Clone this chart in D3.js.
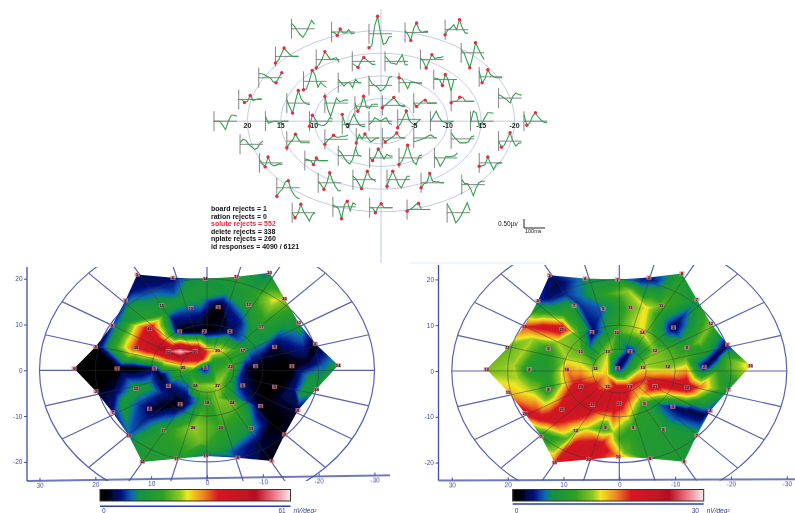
<!DOCTYPE html>
<html>
<head>
<meta charset="utf-8">
<script src="https://cdn.jsdelivr.net/npm/d3@7/dist/d3.min.js"></script>
<style>
  body { margin: 0; background: #fff; }
  text { font-family: "Liberation Sans", sans-serif; }
</style>
</head>
<body>
<div id="vis"></div>
<script>
// trace origins in degrees, 61 hexagons, row by row
const traceX = [13.4,7.4,1.8,-3.6,-9.6, 15.8,9.7,4.3,-0.6,-5.9,-12, 18.3,11.6,6.4,1.8,-2.7,-7.9,-14.7,
  21.3,14.1,8.4,3.9,-0.2,-4.9,-10.5,-17.6, 25,17.3,10.7,5.8,1.8,-2.5,-7.4,-13.4,-21.4,
  21.1,14.1,8.4,3.7,-0.2,-4.9,-10.5,-17.6, 18.2,11.4,6.4,1.7,-2.7,-8,-14.7,
  15.6,9.4,4.2,-0.9,-6,-12.1, 13.3,7.2,1.7,-3.9,-9.9];
const traceY = [20.4,19.7,19.3,19.6,20.2, 14.3,13.6,13.2,13.2,13.6,15.1, 9.6,8.8,8.5,7.9,8.5,9.2,9.8,
  4.8,4,4,3.3,3.5,4,4.4,5.1, 0,0,0,-0.7,0,0.4,0,0,0,
  -5.1,-4.4,-4,-3.7,-3.7,-3.7,-3.9,-4.4, -9.2,-8.7,-7.6,-8.1,-8.1,-8.1,-9.2,
  -14.7,-13.6,-12.9,-12.9,-13.6,-14, -20.2,-18.9,-19.1,-19.5,-20.2];
// response in microvolts, 9 samples over 115 ms
const traceValues = [
  [.27,.13,-.1,-.3,-.42,-.2,.1,.42,.22],
  [0,-.03,-.18,.15,-.05,-.05,.12,-.1,-.05],
  [-.7,-.6,.4,.88,.05,-.53,-.45,-.15,-.15],
  [.1,-.1,-.4,.2,.47,.1,0,.05,.05],
  [-.25,0,.08,.25,0,.5,.08,-.17,-.17],
  [-.33,-.2,.1,.42,.25,.1,0,0,0],
  [-.42,-.25,0,.4,.2,0,.05,.1,-.15],
  [-.1,-.2,-.3,0,.2,.08,-.05,-.15,-.15],
  [.25,.1,-.08,-.1,-.15,.1,.33,-.17,-.17],
  [.08,-.1,-.42,-.1,.25,.05,.1,.1,.15],
  [.15,0,-.4,-.75,-.2,.5,.2,-.1,-.33],
  [.2,.2,.15,.05,0,-.2,-.25,0,.25],
  [-.42,-.38,0,.55,.33,-.3,-.05,-.2,-.3],
  [.17,0,-.17,0,0,-.25,.17,0,0],
  [.38,.1,0,-.1,-.28,-.2,0,.4,.45],
  [.25,.2,0,-.3,.03,.03,0,-.05,-.05],
  [.08,.05,0,-.3,.25,0,-.58,0,0],
  [.28,-.3,-.1,.35,.1,0,-.05,-.05,-.05],
  [0,0,-.15,-.1,.2,-.05,0,.03,.03],
  [.17,-.2,-.5,.1,.63,.2,.05,-.05,-.08],
  [.33,-.3,-.67,-.2,.25,.08,.1,.15,.15],
  [.17,-.25,0,.5,-.05,-.1,.1,.1,.1],
  [-.12,0,.13,.25,.4,.2,0,-.05,-.05],
  [0,-.17,-.05,.1,.15,0,0,0,0],
  [-.08,0,0,.2,.2,0,0,0,0],
  [.17,.1,0,-.1,-.25,.1,.25,.18,.15],
  [0,0,0,-.2,-.42,0,.3,.3,.25],
  [.25,-.1,-.05,0,0,-.1,0,0,0],
  [-.25,.3,.1,-.15,-.2,-.22,-.1,.17,.1],
  [.5,0,-.17,.2,.5,.2,-.05,-.1,-.1],
  [-.17,-.05,.17,.1,0,.1,.17,-.1,-.17],
  [-.42,-.2,.1,.42,-.05,-.2,-.3,-.1,0],
  [0,.25,.5,.2,0,-.05,-.1,-.05,0],
  [-.08,.5,.42,-.25,-.1,.2,.42,.42,.4],
  [.33,-.2,-.1,.25,.42,.2,.05,-.05,-.08],
  [.08,.25,.2,0,-.12,-.25,-.2,.05,.17],
  [-.33,-.1,.05,.35,.1,-.08,-.08,-.08,-.08],
  [-.25,-.05,.05,.2,.1,.1,.15,.15,.2],
  [-.25,.17,-.05,.2,0,-.2,-.1,0,0],
  [0,-.2,-.1,0,.1,.25,.05,0,0],
  [-.17,-.15,-.1,-.05,0,.1,.15,.05,0],
  [.3,.1,-.05,-.2,-.2,-.2,-.15,.1,.15],
  [0,-.3,-.2,.1,.42,0,-.25,-.1,-.08],
  [.17,-.05,-.2,.3,-.05,-.15,-.1,-.05,-.08],
  [.08,.05,0,-.2,.13,0,0,0,0],
  [.3,.15,-.1,-.3,-.42,-.2,.38,0,-.03],
  [0,-.13,.1,.45,.2,-.05,.17,.1,.08],
  [-.33,-.17,.2,.63,.15,-.2,-.33,.1,.15],
  [.08,-.1,-.42,-.2,.08,.05,.08,.1,.25],
  [-.17,-.15,-.1,.3,-.05,-.33,-.05,0,0],
  [-.42,-.2,-.05,.3,.35,-.1,-.35,-.5,-.55],
  [.08,-.1,-.33,0,.5,.1,-.2,-.4,-.4],
  [.17,.05,-.2,-.45,0,.42,.1,0,-.1],
  [-.33,.1,.42,.1,-.25,-.42,-.1,.17,.17],
  [-.25,-.05,0,.47,.08,.05,.05,0,0],
  [.25,.05,.05,-.2,-.55,-.15,.1,.17,.17],
  [0,-.25,-.05,.42,.05,-.17,-.42,-.1,0],
  [.1,0,-.1,-.6,.1,.28,-.2,.2,.1],
  [0,0,-.25,.05,.2,0,0,0,0],
  [-.08,0,.1,.25,.3,0,0,0,0],
  [.42,.2,-.1,-.5,-.35,-.1,.2,.5,.1]
];
// traces with no red markers on them
const unmarked = [0,8,13,14,25,26,27,30,32,33,35,40,41,45,48,55,60];
const rejectLines = ["board rejects = 1","ration rejects = 0","solute rejects = 552","delete rejects = 338","nplate rejects = 260","id responses = 4090 / 6121"];
const ringTicks = [20,15,10,5,-5,-10,-15,-20];
const rings = [5,10,15,20];

// map nodes: centre, then rings of 6, 12, 18, 24 (last 24 are the outline)
const nodeX = [0.3, 4.3,2.1,-1.9,-4.2,-1.9,2.1,
  6.9,4.9,0.5,-4.1,-6.4,-8.7,-6.4,-4.5,0,4.8,6.9,9.4,
  12.7,10.3,8.1,2.9,-2,-7.5,-9.7,-12.1,-15.2,-12.1,-9.6,-7.9,-2.5,2.5,7.8,10.3,12.7,16.1,
  23.8,20,17,14.6,12.5,6.1,0.3,-5.3,-11.2,-13.9,-16.4,-19.4,-23.5,-19.6,-16.3,-13.9,-11.6,-5.5,0.2,5.5,11.6,14,16.9,19.9];
const nodeY = [0.6, 0.6,-3.3,-3.3,0.8,4.3,4.2,
  4.2,8.5,8.5,8.5,4.4,0.9,-3.3,-7.1,-7.1,-7.4,-3.4,0.4,
  4.9,9.1,14.2,13.6,13.8,14.3,9.5,5.1,0.9,-3.6,-7.8,-12.7,-12.4,-12.4,-13.1,-8.4,-4,0.4,
  0.4,5.1,9.8,15.3,20.9,20.2,20,20.4,21.3,15.6,10.4,5.8,1.1,-4.1,-8.7,-14,-19.8,-19.1,-18.7,-19.3,-20,-14.3,-9.2,-4.6];
const leftValues = [5, 25,24,27,22,30,50,
  52,2,2,5,17,3,6,24,18,2,6,5,
  38,42,15,10,1,17,17,4,1,0,3,13,20,26,17,4,15,1,
  0,2,8,8,5,6,14,17,10,26,13,2,14,14,4,3,2,8,10,17,16,10,7,2];
const rightValues = [2, 12,15,19,13,3,13,
  11,2,10,14,12,12,21,9,21,22,20,16,
  9,21,7,5,11,11,2,9,2,22,3,8,9,9,12,21,8,8,
  12,11,18,4,3,6,7,3,8,7,12,2,15,7,4,7,8,8,16,20,18,7,20,15];

// further colour readings between the nodes
const leftExtraX = [9,4.8,1.2,4.8,7.2,10.1,-0.6,13.7,11.3,7.2,7.2,4.8,1.2,3,-3.6,-3.6,-6,1.2,6.3,-7.8,-11.9,-8.4,-13.7,-10.7,-7.2,-16.7,10.7,13.1,8.4,6,15.5,19.1,13.1,8.4,14.9,10.7,16.7,11.9,7.8,7.2,3.6,10.7,11.9,7.2,1.2,-1.2,-3.6,-4.8,-9.6,-11.9,-10.7,-9.6,-14.3,-17.9,-20.9,-18.5,-16.7,-15.5,-7.2,-5.4,-4.8,-1.8,-1.2,3,-3.6,0.6];
const leftExtraY = [6.9,4.1,2.5,2.2,2.5,4.7,4.1,13.5,11.3,9.8,12.7,14.9,16.4,19.3,17.1,14.2,10.5,11.3,11.3,17.1,15.3,9.1,11.3,6.5,5.1,9.1,19.3,17.8,18.5,17.1,10.5,1.1,0.4,-1.1,-6.9,-3.6,-5.1,-7.6,-5.1,-7.6,-5.5,-10.5,-15.6,-15.6,-15.6,-17.1,-15.6,-17.8,-15.6,-11.3,-7.6,-1.1,0.4,1.8,1.1,-1.8,-5.5,-4,0.4,-1.8,-5.5,-6.2,1.8,-0.4,2.5,-1.8];
const leftExtraV = [42,60,42,40,36,45,32,15,18,17,14,15,16,14,14,7,7,5,7,17,28,16,17,12,14,13,5,6,7,9,12,0,1,3,15,14,5,8,7,2,6,7,16,18,24,17,16,9,4,1,2,0,0,3,10,14,14,6,4,10,13,25,16,18,18,15];
const rightExtraX = [11.2,13,9.4,7,4.6,5.2,5.8,3.5,13.6,15.4,15.4,11.2,7.6,13.6,10,13,9.4,7,18.9,18.3,16.5,15.4,8.2,5.8,14.2,7,2.3,1.1,12.4,9.4,5.8,-7.3,-14.4,-4.9,0.5,-8.5,-3.7,-14.4,-7.3,-12,-15,8.2,3.5,-0.1,-1.3,5.8,1.1,9.4,11.8,-17.4,-19.2,-15.6,-18,-14.4,-12,-3.7,-6.7,-4.9,-2.5,-1.9,-0.6,2.3];
const rightExtraY = [19.1,15.8,16.6,14.4,9.3,5.6,16.6,16.6,9.6,9.6,7.1,6.4,8.5,12.9,12.2,-0.9,2.7,2,1.2,-1.7,-6.8,-4.6,-2.4,-4.6,-10.4,-8.2,-5.3,-8.2,-10.4,-11.2,-10.1,-2.8,-3.5,-1.7,-3.5,-5.3,-5.3,-6.1,-7.5,-8.6,-9.7,-16.6,-16.3,-14.8,-17.7,-12.6,-13.4,-14.8,-17.7,3.4,2.7,4.2,0.5,6.4,2.7,19.5,19.5,13.7,10.7,17.3,2.3,-0.9];
const rightExtraV = [2,3,4,4,3,5,6,9,20,19,13,13,11,9,10,8,13,13,13,13,16,13,18,22,20,22,21,20,21,18,18,21,17,18,20,13,14,10,5,2,2,21,21,10,11,13,13,11,13,2,10,8,9,12,11,4,4,14,13,13,2,15];

const xTicks = [30,20,10,0,-10,-20,-30];
const yTicks = [20,10,0,-10,-20];
const colorStops = [0,.035,.11,.17,.2,.33,.42,.46,.54,.62,.82,.92,1];
const colorRange = ["#000000","#000008","#001080","#1068b8","#109048","#2fa020","#90c820","#f0e820","#f08820","#d81820","#b81020","#f08090","#f8eaea"];

const width = 795, height = 513;
const svg = d3.select("#vis").append("svg").attr("width", width).attr("height", height).style("display", "block");
const defs = svg.append("defs");
defs.append("filter").attr("id", "blur").attr("x", "-5%").attr("y", "-5%").attr("width", "110%").attr("height", "110%")
  .append("feGaussianBlur").attr("stdDeviation", 0.55);
defs.append("filter").attr("id", "blurText").append("feGaussianBlur").attr("stdDeviation", 0.3);

const colorT = d3.scaleLinear().domain(colorStops).range(colorRange).interpolate(d3.interpolateRgb).clamp(true);

// ---- top chart
function drawTraces() {
  const x = d3.scaleLinear().domain([25, -25]).range([214, 548]);
  const y = d3.scaleLinear().domain([20, -20]).range([30.6, 211.8]);
  const t = d3.scaleLinear().domain([0, 115]).range([0, 23]);
  const volt = d3.scaleLinear().domain([-1, 1]).range([20, -20]);
  const g = svg.append("g").attr("filter", "url(#blur)");

  g.selectAll("ellipse").data(rings).join("ellipse")
    .attr("cx", x(0)).attr("cy", y(0))
    .attr("rx", d => x(0 - d) - x(0)).attr("ry", d => y(-d) - y(0))
    .attr("fill", "none").attr("stroke", "#c3cbe6").attr("stroke-width", 1);
  g.append("line").attr("x1", 213).attr("x2", 548).attr("y1", y(0)).attr("y2", y(0)).attr("stroke", "#c3cbe6");
  g.append("line").attr("x1", x(0)).attr("x2", x(0)).attr("y1", 9).attr("y2", 263).attr("stroke", "#c3cbe6");
  g.append("line").attr("x1", 410).attr("x2", 545).attr("y1", 263).attr("y2", 263).attr("stroke", "#dcebf6");

  const line = d3.line().x((d, i) => t(i * 115 / 8)).y(d => volt(d));
  traceValues.forEach((vals, i) => {
    const tr = g.append("g").attr("transform", `translate(${x(traceX[i])},${y(traceY[i])})`);
    tr.append("line").attr("x1", 0).attr("x2", t(115)).attr("stroke", "#666").attr("stroke-width", 0.8);
    tr.append("line").attr("y1", volt(-.5)).attr("y2", volt(.5)).attr("stroke", "#666").attr("stroke-width", 0.8);
    tr.append("path").attr("d", line(vals)).attr("fill", "none").attr("stroke", "#34a052").attr("stroke-width", 1.1);
    if (!unmarked.includes(i)) {
      const peak = d3.maxIndex(vals);
      const marks = [peak];
      if (peak > 0) marks.push(d3.minIndex(vals.slice(0, peak)));
      tr.selectAll("circle").data(marks).join("circle")
        .attr("cx", d => t(d * 115 / 8)).attr("cy", d => volt(vals[d]))
        .attr("r", 1.7).attr("fill", "#e8293f");
    }
  });

  const tg = svg.append("g").attr("filter", "url(#blurText)");
  tg.selectAll("text.tick").data(ringTicks).join("text").attr("class", "tick")
    .attr("x", d => x(d)).attr("y", y(0) + 6.5)
    .attr("text-anchor", "middle").attr("font-size", 7).attr("font-weight", "bold").attr("fill", "#222")
    .text(d => d);
  tg.selectAll("text.rej").data(rejectLines).join("text").attr("class", "rej")
    .attr("x", 211).attr("y", (d, i) => 211 + i * 7.6)
    .attr("font-size", 7).attr("font-weight", "bold")
    .attr("fill", (d, i) => i == 2 ? "#e8293f" : "#111").text(d => d);
  tg.append("text").attr("x", 498).attr("y", 226).attr("font-size", 6.5).attr("fill", "#222").text("0.50µv");
  tg.append("text").attr("x", 525).attr("y", 233).attr("font-size", 5.5).attr("fill", "#222").text("100ms");
  g.append("path").attr("d", "M524,219V228H545").attr("fill", "none").attr("stroke", "#222").attr("stroke-width", 1);
}

// ---- lower maps
function drawMap(id, o, values, extraX, extraY, extraV, maxVal) {
  const x = d3.scaleLinear().domain([30, -30]).range([o.cx - 167.5, o.cx + 167.5]);
  const y = d3.scaleLinear().domain([20, -20]).range([o.cy - 91.6, o.cy + 91.6]);
  const pts = nodeX.map((d, i) => [x(d), y(nodeY[i])]);
  const hex = pts.slice(37);
  const all = pts.concat(extraX.map((d, i) => [x(d), y(extraY[i])]));
  const vals = values.concat(extraV);

  // field painted triangle by triangle from the readings
  const x0 = Math.floor(d3.min(pts, d => d[0])), x1 = Math.ceil(d3.max(pts, d => d[0]));
  const y0 = Math.floor(d3.min(pts, d => d[1])), y1 = Math.ceil(d3.max(pts, d => d[1]));
  const canvas = document.createElement("canvas");
  canvas.width = x1 - x0; canvas.height = y1 - y0;
  const ctx = canvas.getContext("2d");
  const img = ctx.createImageData(canvas.width, canvas.height);
  const tris = d3.Delaunay.from(all).triangles;
  for (let n = 0; n < tris.length; n += 3) {
    const a = tris[n], b = tris[n + 1], c = tris[n + 2];
    const pa = all[a], pb = all[b], pc = all[c];
    const bx0 = Math.max(x0, Math.floor(Math.min(pa[0], pb[0], pc[0]))), bx1 = Math.min(x1 - 1, Math.ceil(Math.max(pa[0], pb[0], pc[0])));
    const by0 = Math.max(y0, Math.floor(Math.min(pa[1], pb[1], pc[1]))), by1 = Math.min(y1 - 1, Math.ceil(Math.max(pa[1], pb[1], pc[1])));
    for (let py = by0; py <= by1; py++) {
      for (let px = bx0; px <= bx1; px++) {
        const w = bary(pa, pb, pc, px + .5, py + .5);
        if (w[0] < -.02 || w[1] < -.02 || w[2] < -.02) continue;
        const v = w[0] * vals[a] + w[1] * vals[b] + w[2] * vals[c];
        const col = d3.rgb(colorT(v / maxVal));
        const k = ((py - y0) * canvas.width + (px - x0)) * 4;
        img.data[k] = col.r; img.data[k + 1] = col.g; img.data[k + 2] = col.b; img.data[k + 3] = 255;
      }
    }
  }
  ctx.putImageData(img, 0, 0);

  defs.append("clipPath").attr("id", "hex" + id).append("polygon").attr("points", hex.join(" "));
  defs.append("clipPath").attr("id", "panel" + id).append("rect")
    .attr("x", o.left + 1).attr("y", o.top).attr("width", 370).attr("height", o.bottom - o.top);

  const g = svg.append("g").attr("filter", "url(#blur)");
  const lines = g.append("g").attr("clip-path", `url(#panel${id})`);
  const polar = (r, a) => [x(r * Math.cos(a)), y(r * Math.sin(a))];
  const spoke = d3.line();
  const spokes = d3.range(0, 360, 15).map(a => spoke([polar(10, a * Math.PI / 180), polar(30, a * Math.PI / 180)]));
  const inner = d3.range(0, 360, 15).map(a => spoke([polar(4.8, a * Math.PI / 180), polar(10, a * Math.PI / 180)]));

  function web(sel, col, w, op, radii) {
    sel.selectAll("ellipse").data(radii).join("ellipse")
      .attr("cx", x(0)).attr("cy", y(0))
      .attr("rx", d => x(-d) - x(0)).attr("ry", d => y(-d) - y(0))
      .attr("fill", "none").attr("stroke", col).attr("stroke-width", w).attr("opacity", op);
    sel.selectAll("path").data(spokes).join("path").attr("d", d => d)
      .attr("stroke", col).attr("stroke-width", w).attr("opacity", op).attr("fill", "none");
  }
  web(lines.append("g"), "#5663b0", 1.2, 1, [20, 30]);
  g.append("image").attr("x", x0).attr("y", y0).attr("width", canvas.width).attr("height", canvas.height)
    .attr("clip-path", `url(#hex${id})`).attr("href", canvas.toDataURL());
  const inside = g.append("g").attr("clip-path", `url(#hex${id})`);
  web(inside.append("g"), "#2c3a3a", 0.6, 0.75, [4.8, 10, 20]);
  inside.append("g").selectAll("path").data(inner).join("path").attr("d", d => d)
    .attr("stroke", "#2c3a3a").attr("stroke-width", 0.5).attr("opacity", 0.55);

  // node labels
  const nodes = svg.append("g").attr("filter", "url(#blurText)");
  nodes.selectAll("rect").data(pts).join("rect")
    .attr("x", d => d[0] - 2.6).attr("y", d => d[1] - 2.1).attr("width", 5.2).attr("height", 4.2)
    .attr("fill", "#d8808c").attr("opacity", 0.75);
  nodes.selectAll("text").data(pts).join("text")
    .attr("x", d => d[0]).attr("y", d => d[1] + 1.5)
    .attr("text-anchor", "middle").attr("font-size", 4.2).attr("font-weight", "bold").attr("fill", "#2a1016")
    .text((d, i) => values[i]);

  // axes
  const axisCol = "#3f4da6";
  const ax = svg.append("g").attr("filter", "url(#blur)");
  const yAxis = ax.append("g").attr("transform", `translate(${o.left},0)`)
    .call(d3.axisLeft(y).tickValues(yTicks).tickFormat(d => d).tickSize(3).tickPadding(1.5));
  yAxis.select(".domain").attr("d", `M0,${o.top}V${o.bottom}`);
  const xAxis = ax.append("g").attr("transform", `rotate(${o.tilt} ${o.left} ${o.bottom}) translate(0,${o.bottom})`)
    .call(d3.axisBottom(x).tickValues(xTicks).tickFormat(d => d).tickSize(-3).tickPadding(2.5));
  xAxis.select(".domain").attr("d", `M${o.left},0H${o.right}`);
  [yAxis, xAxis].forEach(a => {
    a.select(".domain").attr("stroke", axisCol).attr("stroke-width", 1.3);
    a.selectAll("line").attr("stroke", axisCol);
    a.selectAll("text").attr("fill", axisCol).attr("font-size", 6.5).attr("font-family", "Liberation Sans");
  });

  // colour bar
  const bar = d3.scaleLinear().domain([0, 1]).range([o.barX, o.barX + o.barW]);
  const grad = defs.append("linearGradient").attr("id", "grad" + id);
  grad.selectAll("stop").data(colorStops).join("stop")
    .attr("offset", d => d).attr("stop-color", (d, i) => colorRange[i]);
  const bg = svg.append("g").attr("filter", "url(#blur)");
  bg.append("rect").attr("x", bar(0)).attr("y", 489.5).attr("width", o.barW).attr("height", 11.5)
    .attr("fill", `url(#grad${id})`).attr("stroke", "#333").attr("stroke-width", 1);
  bg.append("line").attr("x1", bar(0)).attr("x2", bar(1)).attr("y1", o.lineY).attr("y2", o.lineY)
    .attr("stroke", "#2f3d9e").attr("stroke-width", 1.5);
  const bt = svg.append("g").attr("filter", "url(#blurText)").attr("font-size", 6.5).attr("fill", "#2f3d8e");
  bt.append("text").attr("x", bar(0) + 2).attr("y", 512.5).text("0");
  bt.append("text").attr("x", bar(1) - 12).attr("y", 512.5).text(maxVal);
  bt.append("text").attr("x", bar(1) + 3).attr("y", 512.5).attr("font-style", "italic").text("nV/deg²");
}

function bary(a, b, c, x, y) {
  const d = (b[1] - c[1]) * (a[0] - c[0]) + (c[0] - b[0]) * (a[1] - c[1]);
  const u = ((b[1] - c[1]) * (x - c[0]) + (c[0] - b[0]) * (y - c[1])) / d;
  const v = ((c[1] - a[1]) * (x - c[0]) + (a[0] - c[0]) * (y - c[1])) / d;
  return [u, v, 1 - u - v];
}

drawTraces();
drawMap("L", { cx: 207, cy: 370.3, left: 27, right: 390, top: 267, bottom: 481, tilt: -0.9, barX: 100, barW: 190.5, lineY: 506.3 }, leftValues, leftExtraX, leftExtraY, leftExtraV, 61);
drawMap("R", { cx: 619.3, cy: 371, left: 438.5, right: 795, top: 265, bottom: 480.5, tilt: -0.2, barX: 512.7, barW: 191, lineY: 504 }, rightValues, rightExtraX, rightExtraY, rightExtraV, 30);
</script>
</body>
</html>
